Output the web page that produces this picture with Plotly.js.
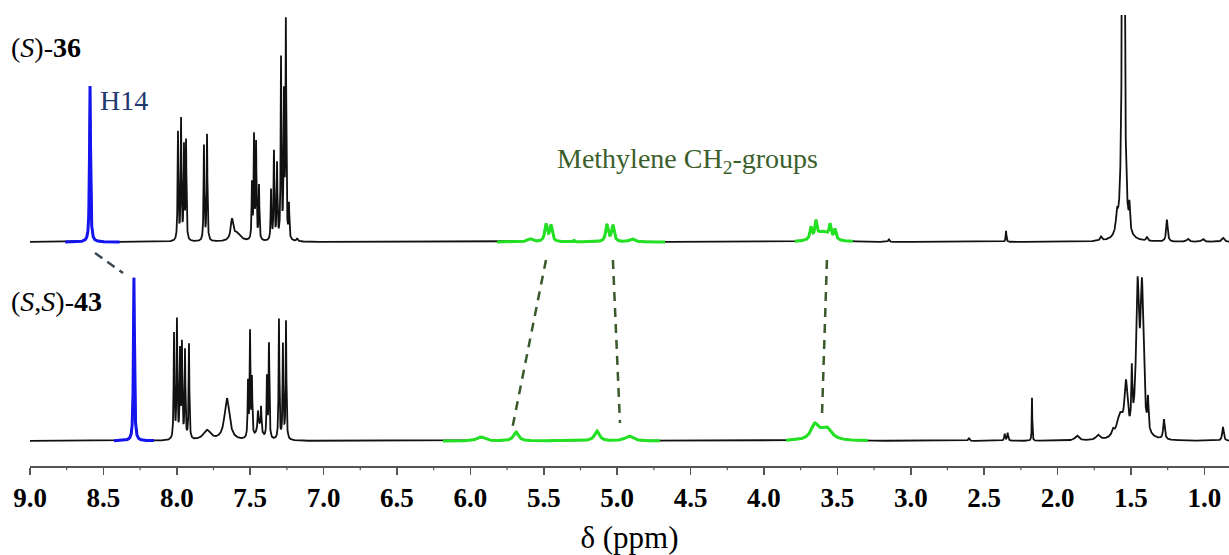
<!DOCTYPE html>
<html>
<head>
<meta charset="utf-8">
<script src="https://cdn.plot.ly/plotly-3.0.1.min.js"></script>
<style>
  html, body { margin: 0; padding: 0; background: #ffffff; }
  #chart { width: 1229px; height: 555px; }
</style>
</head>
<body>
<div id="chart"></div>
<script>
// ---------- Data (peak lists: ppm, height, half-width) ----------
// (S)-36 — upper spectrum
const topPeakPpm    = [8.591, 7.992, 7.971, 7.951, 7.937, 7.815, 7.794, 7.624, 7.590, 7.488, 7.474, 7.460, 7.440,
                       7.358, 7.338, 7.317, 7.290, 7.270, 7.257, 7.236, 7.180,
                       5.594, 5.485, 5.451, 5.294, 5.070, 5.029, 4.899,
                       3.680, 3.646, 3.600, 3.550, 3.516, 3.149, 2.351, 1.704, 1.595, 1.552, 1.510, 1.391, 1.255, 1.112, 1.010, 0.873];
const topPeakHeight = [156, 108, 120, 92, 98, 95, 106, 20, 8, 55, 102, 95, 54,
                       50, 88, 75, 180, 140, 215, 34, 3,
                       3, 17, 16, 2, 17, 16, 3,
                       12, 16, 10, 13, 10, 3, 11, 4, 18, 900, 24, 4, 22, 3, 3, 4];
const topPeakWidth  = [0.004, 0.003, 0.003, 0.003, 0.003, 0.003, 0.003, 0.010, 0.030, 0.003, 0.003, 0.003, 0.003,
                       0.003, 0.003, 0.003, 0.003, 0.003, 0.003, 0.003, 0.005,
                       0.020, 0.010, 0.010, 0.003, 0.010, 0.010, 0.020,
                       0.008, 0.008, 0.050, 0.008, 0.008, 0.004, 0.003, 0.008, 0.008, 0.006, 0.004, 0.006, 0.006, 0.010, 0.010, 0.010];

// (S,S)-43 — lower spectrum
const botPeakPpm    = [8.292, 8.019, 7.999, 7.978, 7.965, 7.944, 7.917, 7.794, 7.658,
                       7.515, 7.501, 7.488, 7.440, 7.447, 7.426, 7.386, 7.372, 7.304, 7.277, 7.256,
                       5.928, 5.689, 5.138, 4.920, 3.655, 3.610, 3.570,
                       2.604, 2.360, 2.340, 2.174, 1.868, 1.725, 1.623, 1.575, 1.534, 1.494, 1.455, 1.425, 1.384, 1.275, 0.873];
const botPeakHeight = [163, 105, 118, 86, 93, 88, 95, 10, 42,
                       55, 104, 57, 14, 16, 24, 60, 94, 120, 94, 118,
                       4, 9, 10, 5, 14, 4, 10,
                       3, 7, 8, 43, 5, 5, 6, 22, 50, 55, 142, 142, 30, 20, 14];
const botPeakWidth  = [0.004, 0.003, 0.003, 0.003, 0.003, 0.003, 0.003, 0.030, 0.020,
                       0.003, 0.003, 0.003, 0.020, 0.003, 0.003, 0.003, 0.003, 0.003, 0.003, 0.003,
                       0.030, 0.020, 0.020, 0.030, 0.030, 0.050, 0.040,
                       0.005, 0.004, 0.004, 0.002, 0.015, 0.015, 0.010, 0.025, 0.012, 0.004, 0.012, 0.012, 0.004, 0.006, 0.006];

// Coloured regions (ppm from, ppm to)
const topBlueRange   = [8.76, 8.39];
const topGreenRanges = [[5.819, 4.674], [3.789, 3.394]];
const botBlueRange   = [8.428, 8.155];
const botGreenRanges = [[6.187, 4.709], [3.850, 3.292]];

// Correlation links (ppm in upper spectrum -> ppm in lower spectrum)
const h14LinkPpm       = [8.557, 8.366];
const methyleneLinkTop = [5.485, 5.029, 3.571];
const methyleneLinkBot = [5.717, 4.981, 3.605];

// Axis ticks
const tickValues = [9.0, 8.5, 8.0, 7.5, 7.0, 6.5, 6.0, 5.5, 5.0, 4.5, 4.0, 3.5, 3.0, 2.5, 2.0, 1.5, 1.0];
const tickLabels = ["9.0", "8.5", "8.0", "7.5", "7.0", "6.5", "6.0", "5.5", "5.0", "4.5", "4.0", "3.5", "3.0", "2.5", "2.0", "1.5", "1.0"];
const minorTickValues = [8.75, 8.25, 7.75, 7.25, 6.75, 6.25, 5.75, 5.25, 4.75, 4.25, 3.75, 3.25, 2.75, 2.25, 1.75, 1.25];

// ---------- Build spectra from the peak lists ----------
const X_MAX = 9.0, X_MIN = 0.832, STEP = 0.0005;
const TOP_BASE = 224, BOT_BASE = 25;   // vertical offsets of the two baselines

function spectrum(ppms, heights, widths, lo, hi, base) {
  const xs = [], ys = [];
  const n = Math.round((hi - lo) / STEP);
  for (let i = 0; i <= n; i++) {
    const x = hi - i * STEP;
    let y = 0;
    for (let k = 0; k < ppms.length; k++) {
      const d = x - ppms[k], w = widths[k];
      y += heights[k] * w * w / (d * d + w * w);
    }
    xs.push(x); ys.push(base + y);
  }
  return {x: xs, y: ys};
}

function lineTrace(s, color, width) {
  return {x: s.x, y: s.y, type: 'scatter', mode: 'lines',
          line: {color: color, width: width, shape: 'linear'},
          hoverinfo: 'skip', showlegend: false};
}

const BLACK = '#111111', BLUE = '#1414f0', GREEN = '#22e022';
const traces = [];
traces.push(lineTrace(spectrum(topPeakPpm, topPeakHeight, topPeakWidth, X_MIN, X_MAX, TOP_BASE), BLACK, 1.8));
traces.push(lineTrace(spectrum(botPeakPpm, botPeakHeight, botPeakWidth, X_MIN, X_MAX, BOT_BASE), BLACK, 1.8));
traces.push(lineTrace(spectrum(topPeakPpm, topPeakHeight, topPeakWidth, topBlueRange[1], topBlueRange[0], TOP_BASE), BLUE, 3));
traces.push(lineTrace(spectrum(botPeakPpm, botPeakHeight, botPeakWidth, botBlueRange[1], botBlueRange[0], BOT_BASE), BLUE, 3));
topGreenRanges.forEach(r => traces.push(lineTrace(spectrum(topPeakPpm, topPeakHeight, topPeakWidth, r[1], r[0], TOP_BASE), GREEN, 3)));
botGreenRanges.forEach(r => traces.push(lineTrace(spectrum(botPeakPpm, botPeakHeight, botPeakWidth, r[1], r[0], BOT_BASE), GREEN, 3)));

// ---------- Annotation shapes (dashed links, minor ticks) ----------
const shapes = [];
shapes.push({type: 'line', xref: 'x', yref: 'y',
  x0: h14LinkPpm[0], y0: 213, x1: h14LinkPpm[1], y1: 193,
  line: {color: '#3c4852', width: 2.5, dash: '9px,6px'}});
for (let i = 0; i < methyleneLinkTop.length; i++) {
  shapes.push({type: 'line', xref: 'x', yref: 'y',
    x0: methyleneLinkTop[i], y0: 206, x1: methyleneLinkBot[i], y1: [36, 43, 49][i],
    line: {color: '#3b5a2c', width: 2.5, dash: '9px,7px'}});
}
minorTickValues.forEach(v => shapes.push({type: 'line', xref: 'x', yref: 'paper', x0: v, x1: v, y0: 0, y1: -0.0095,
  line: {color: '#555555', width: 1.2}}));

const SERIF = 'Liberation Serif';
const annotations = [
  {xref: 'paper', yref: 'y', x: -0.0175, y: 419, xanchor: 'left', yanchor: 'middle', showarrow: false,
   text: '(<i>S</i>)-<b>36</b>', font: {family: SERIF, size: 28, color: '#000000'}},
  {xref: 'paper', yref: 'y', x: -0.0175, y: 165, xanchor: 'left', yanchor: 'middle', showarrow: false,
   text: '(<i>S</i>,<i>S</i>)-<b>43</b>', font: {family: SERIF, size: 28, color: '#000000'}},
  {xref: 'x', yref: 'y', x: 8.535, y: 366, xanchor: 'left', yanchor: 'middle', showarrow: false,
   text: 'H14', font: {family: SERIF, size: 28, color: '#1f3a70'}},
  {xref: 'x', yref: 'y', x: 4.518, y: 306, xanchor: 'center', yanchor: 'middle', showarrow: false,
   text: 'Methylene CH<sub>2</sub>-groups', font: {family: SERIF, size: 28, color: '#3b5e2b'}}
];

const layout = {
  width: 1229, height: 555,
  margin: {l: 30, r: 0, t: 15, b: 89},
  paper_bgcolor: '#ffffff', plot_bgcolor: '#ffffff',
  font: {family: SERIF, size: 26, color: '#000000'},
  showlegend: false,
  xaxis: {
    range: [X_MAX, X_MIN], showgrid: false, zeroline: false,
    showline: true, linecolor: '#555555', linewidth: 1.5,
    ticks: 'outside', ticklen: 7, tickwidth: 1.5, tickcolor: '#555555',
    tickmode: 'array', tickvals: tickValues, ticktext: tickLabels.map(t => '<b>' + t + '</b>'),
    tickfont: {family: SERIF, size: 27, color: '#000000'},
    title: {text: 'δ (ppm)', standoff: 18},
    automargin: false
  },
  yaxis: {range: [0, 451], visible: false, showgrid: false, zeroline: false, fixedrange: true},
  shapes: shapes,
  annotations: annotations
};

Plotly.newPlot('chart', traces, layout, {displayModeBar: false, staticPlot: true});
</script>
</body>
</html>
